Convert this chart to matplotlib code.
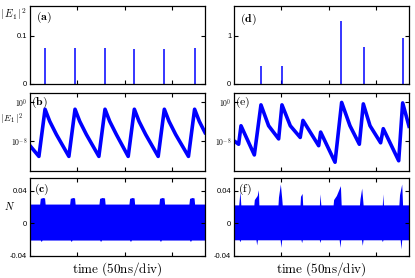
import numpy as np
import matplotlib
matplotlib.use('Agg')
import matplotlib.pyplot as plt

plt.rcParams['mathtext.fontset'] = 'cm'
plt.rcParams['font.family'] = ['Liberation Sans', 'DejaVu Sans']

# regular pulsing (left column), times in ns
pulse_t_a = [15.9, 47.6, 79.3, 110.3, 142.0, 174.0]
pulse_h_a = [0.074, 0.075, 0.074, 0.072, 0.073, 0.074]

# irregular pulsing (right column)
pulse_t_d = [28.2, 50.7, 113.6, 137.0, 178.8]
pulse_h_d = [0.375, 0.38, 1.32, 0.78, 0.965]

# log10 |E1|^2 trace vertices
t_b = [0, 9.4, 15.9, 20.9, 27.9, 41.1, 47.6, 52.6, 59.6, 72.8, 79.3, 84.3, 91.3,
       103.8, 110.3, 115.3, 122.3, 135.5, 142.0, 147.0, 154.0, 167.5, 174.0, 179.0, 185]
logE_b = [-8.9, -11.1, -1.4, -3.9, -6.6, -11.1, -1.4, -3.9, -6.6, -11.1, -1.4, -3.9, -6.6,
          -11.1, -1.4, -3.9, -6.6, -11.1, -1.4, -3.9, -6.6, -11.1, -1.4, -3.9, -6.2]

t_e = [0, 4.9, 7.4, 21.5, 28.5, 36.6, 47.2, 50.7, 59.5, 70.0, 72.9, 89.5, 91.6, 106.8,
       113.8, 122.6, 132.5, 136.7, 143.8, 155.0, 157.8, 174.1, 178.3, 185]
logE_e = [-7.9, -8.6, -4.8, -10.8, -0.5, -4.8, -7.5, -0.5, -4.8, -7.2, -3.7, -8.9, -6.1, -12.3,
          0.0, -4.8, -8.6, -0.3, -4.8, -8.3, -5.4, -12.0, -0.1, -4.9]

# carrier N envelopes
t_cu = [0, 10.2, 10.9, 13.5, 15.4, 16.0, 41.9, 42.6, 45.2, 47.1, 47.7, 72.9, 73.6, 76.2,
        78.8, 79.4, 104.6, 105.3, 107.9, 110.0, 110.6, 136.3, 137.0, 139.6, 141.7, 142.3,
        168.0, 168.7, 171.3, 173.4, 174.0, 185]
N_cu = [0.0235, 0.0235, 0.0305, 0.0315, 0.031, 0.0235, 0.0235, 0.0305, 0.0315, 0.031, 0.0235,
        0.0235, 0.0305, 0.0315, 0.031, 0.0235, 0.0235, 0.0305, 0.0315, 0.031, 0.0235,
        0.0235, 0.0305, 0.0315, 0.031, 0.0235, 0.0235, 0.0305, 0.0315, 0.031, 0.0235, 0.0235]
t_cl = [0, 10.8, 11.8, 12.8, 42.5, 43.5, 44.5, 73.6, 74.6, 75.6, 105.2, 106.2, 107.2,
        136.9, 137.9, 138.9, 168.6, 169.6, 170.6, 185]
N_cl = [-0.0205, -0.0205, -0.0222, -0.0205, -0.0205, -0.0222, -0.0205, -0.0205, -0.0222,
        -0.0205, -0.0205, -0.0222, -0.0205, -0.0205, -0.0222, -0.0205, -0.0205, -0.0222,
        -0.0205, -0.0205]

t_fu = [0, 5.0, 6.3, 7.2, 21.0, 21.5, 24.5, 25.8, 26.3, 46.5, 47.0, 49.0, 50.5, 51.0,
        69.8, 70.3, 72.0, 72.6, 90.3, 90.8, 91.8, 104.8, 105.3, 108.2, 112.5, 113.3,
        132.6, 133.2, 135.0, 136.5, 156.8, 157.3, 158.0, 174.3, 175.0, 177.3, 178.2, 185]
N_fu = [0.0225, 0.0225, 0.039, 0.0225, 0.0225, 0.029, 0.034, 0.041, 0.0225, 0.0225, 0.032,
        0.048, 0.03, 0.0225, 0.0225, 0.033, 0.0365, 0.0225, 0.0225, 0.036, 0.0225, 0.0225,
        0.029, 0.034, 0.046, 0.0225, 0.0225, 0.030, 0.043, 0.0225, 0.0225, 0.036, 0.0225,
        0.0225, 0.035, 0.048, 0.0225, 0.0225]
t_fl = [0, 5.5, 6.3, 7.0, 23.2, 24.0, 24.8, 48.8, 49.6, 50.4, 70.8, 71.5, 72.2, 90.2, 90.9,
        91.6, 111.2, 112.0, 112.8, 134.8, 135.6, 136.4, 156.1, 156.8, 157.5, 175.7, 176.5,
        177.3, 185]
N_fl = [-0.0202, -0.0202, -0.0225, -0.0202, -0.0202, -0.0265, -0.0202, -0.0202, -0.0294,
        -0.0202, -0.0202, -0.0237, -0.0202, -0.0202, -0.0235, -0.0202, -0.0202, -0.0294,
        -0.0202, -0.0202, -0.027, -0.0202, -0.0202, -0.0224, -0.0202, -0.0202, -0.0314,
        -0.0202, -0.0202]

blue = '#0000ff'
W, H = 415.0, 278.0
fig = plt.figure(figsize=(4.15, 2.78), dpi=100)

def box(x0, x1, y0, y1):
    return [x0 / W, 1 - y1 / H, (x1 - x0) / W, (y1 - y0) / H]

cols = [(30, 205), (234, 409)]
rows = [(6, 84), (92.7, 170.5), (178.3, 256)]
ax = {}
for i, (x0, x1) in enumerate(cols):
    for j, (y0, y1) in enumerate(rows):
        a = fig.add_axes(box(x0, x1, y0, y1))
        a.set_xlim(0, 185)
        a.set_xticks([50, 100, 150])
        a.set_xticklabels([])
        a.tick_params(direction='in', length=3, width=0.8, top=True, right=True,
                      labelsize=5.5, pad=2)
        for s in a.spines.values():
            s.set_linewidth(0.9)
        ax[(i, j)] = a

# (a) / (d) linear intensity
ax[(0, 0)].vlines(pulse_t_a, 0, pulse_h_a, color=blue, lw=1.1)
ax[(0, 0)].set_ylim(0, 0.1625)
ax[(0, 0)].set_yticks([0, 0.1])
ax[(0, 0)].set_yticklabels(['0', '0.1'])
ax[(1, 0)].vlines(pulse_t_d, 0, pulse_h_d, color=blue, lw=1.1)
ax[(1, 0)].set_ylim(0, 1.625)
ax[(1, 0)].set_yticks([0, 1])
ax[(1, 0)].set_yticklabels(['0', '1'])

# (b) / (e) log intensity
for i, (t, lv) in enumerate([(t_b, logE_b), (t_e, logE_e)]):
    a = ax[(i, 1)]
    a.plot(t, 10.0 ** np.array(lv), color=blue, lw=2.6, solid_joinstyle='round')
    a.set_yscale('log')
    a.set_ylim(1e-14, 1e2)
    a.set_yticks([1e0, 1e-8])
    a.set_yticklabels([r'$10^{0}$', r'$10^{-8}$'])
    a.minorticks_off()

# (c) / (f) carrier density (lower fills overlap zero a little to hide the seam)
ax[(0, 2)].fill_between(t_cu, N_cu, 0, color=blue, lw=0)
ax[(0, 2)].fill_between(t_cl, N_cl, 0.003, color=blue, lw=0)
ax[(1, 2)].fill_between(t_fu, N_fu, 0, color=blue, lw=0)
ax[(1, 2)].fill_between(t_fl, N_fl, 0.003, color=blue, lw=0)
for i in range(2):
    a = ax[(i, 2)]
    a.set_ylim(-0.04, 0.055)
    a.set_yticks([-0.04, 0, 0.04])
    a.set_yticklabels(['-0.04', '0', '0.04'])
    a.set_xlabel(r'$\mathrm{time\ (50ns/div)}$', fontsize=9.5, labelpad=1)

labels = {(0, 0): (r'$\mathbf{(a)}$', 0.035, 0.95), (0, 1): (r'$\mathbf{(b)}$', 0.008, 0.97),
          (0, 2): (r'$\mathbf{(c)}$', 0.02, 0.95), (1, 0): (r'$\mathbf{(d)}$', 0.035, 0.93),
          (1, 1): (r'$\mathrm{(e)}$', 0.008, 0.97), (1, 2): (r'$\mathrm{(f)}$', 0.02, 0.95)}
for k, (s, x, y) in labels.items():
    ax[k].text(x, y, s, transform=ax[k].transAxes, fontsize=8.5, va='top', ha='left')

fig.text(13 / W, 1 - 14 / H, r'$|\,E_1\,|^2$', fontsize=7.5, ha='center', va='center')
fig.text(12 / W, 1 - 119 / H, r'$|\,E_1\,|^2$', fontsize=6.5, ha='center', va='center')
fig.text(10 / W, 1 - 206 / H, r'$N$', fontsize=7.5, ha='center', va='center')

fig.savefig('out.png', dpi=100)
